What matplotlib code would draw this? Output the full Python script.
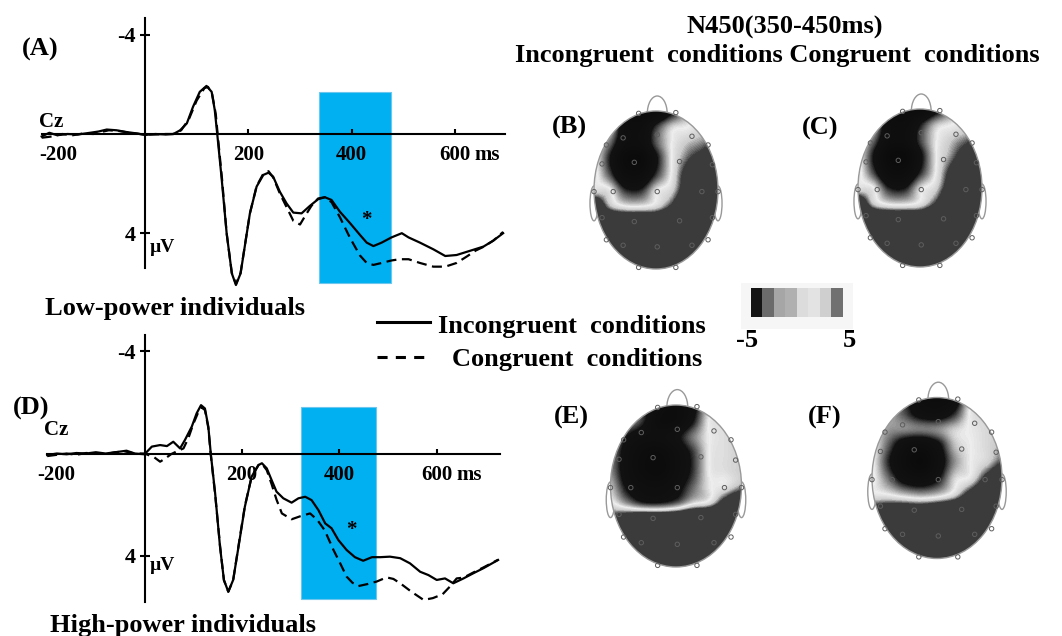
import numpy as np
import matplotlib
matplotlib.use("Agg")
import matplotlib.pyplot as plt
from matplotlib.colors import LinearSegmentedColormap
from matplotlib.patches import Ellipse, Arc, Rectangle

plt.rcParams['font.family'] = ['Liberation Serif', 'DejaVu Serif']
plt.rcParams['font.weight'] = 'bold'

# ─── ERP waveforms at Cz (ms, µV; negative up) ─────────────────────
t_a_inc = [-200, -185, -170, -150, -130, -106, -90, -74, -55, -36, -15, 0,
           20, 40, 55, 68, 81, 93, 106, 119, 129, 135, 140,
           148, 158, 168, 176, 185, 194, 203, 216, 229, 239, 248,
           261, 274, 287, 303, 319, 335, 348, 361, 377, 397,
           416, 429, 442, 458, 477, 497, 510, 532, 558, 581,
           603, 629, 655, 674, 693]
v_a_inc = [0.1, -0.05, 0.05, 0.0, 0.02, -0.05, -0.1, -0.18, -0.15, -0.08, -0.02, 0.04,
           0.0, 0.02, 0.0, -0.15, -0.43, -1.1, -1.7, -1.94, -1.7, -0.97, 0.04,
           1.72, 4.0, 5.62, 6.09, 5.62, 4.41, 3.2, 2.12, 1.65, 1.56, 1.72,
           2.33, 2.8, 3.17, 3.2, 2.9, 2.63, 2.55, 2.66, 3.13, 3.6,
           4.07, 4.38, 4.52, 4.38, 4.17, 4.0, 4.17, 4.38, 4.65, 4.92,
           4.88, 4.71, 4.54, 4.30, 4.0]

t_a_con = [-200, -180, -160, -140, -120, -100, -85, -70, -50, -30, -10, 0,
           20, 40, 55, 70, 85, 100, 115, 122, 130, 137, 141,
           149, 158, 168, 176, 185, 194, 203, 216, 229, 239, 248,
           261, 274, 287, 300, 310, 322, 335, 348, 361, 377,
           397, 416, 429, 442, 458, 477, 493, 510, 532, 558,
           581, 603, 622, 640, 655, 674, 693]
v_a_con = [0.15, 0.1, 0.0, 0.05, -0.02, 0.0, -0.08, -0.15, -0.12, -0.05, 0.0, 0.02,
           0.02, 0.0, 0.0, -0.15, -0.6, -1.35, -1.85, -1.9, -1.6, -0.8, 0.1,
           1.8, 4.0, 5.6, 6.05, 5.6, 4.4, 3.2, 2.1, 1.6, 1.5, 1.75,
           2.4, 2.95, 3.5, 3.65, 3.3, 2.9, 2.6, 2.55, 2.75, 3.35,
           4.2, 4.9, 5.2, 5.28, 5.2, 5.1, 5.05, 5.05, 5.2, 5.35,
           5.35, 5.2, 4.95, 4.7, 4.55, 4.3, 3.95]

t_d_inc = [-200, -180, -160, -140, -120, -100, -80, -60, -37, -20, 0,
           15, 32, 46, 59, 73, 83, 97, 107, 116, 124, 131, 136,
           145, 155, 163, 172, 182, 193, 206, 220, 234, 241,
           251, 261, 271, 285, 302, 316, 330, 343, 357, 371,
           384, 398, 415, 432, 449, 467, 484, 504, 525, 545,
           566, 583, 600, 617, 634, 655, 675, 696, 726]
v_d_inc = [0.06, 0.0, 0.03, -0.02, 0.0, -0.05, 0.0, -0.05, -0.11, 0.0, 0.03,
           -0.27, -0.33, -0.29, -0.46, -0.2, -0.53, -1.05, -1.57, -1.89, -1.76, -1.05, 0.0,
           1.56, 3.64, 4.94, 5.4, 4.94, 3.64, 2.08, 0.9, 0.45, 0.38,
           0.58, 1.04, 1.49, 1.75, 1.92, 1.75, 1.69, 1.82, 2.21, 2.73,
           2.92, 3.38, 3.77, 4.05, 4.19, 4.05, 4.05, 4.03, 4.09, 4.29,
           4.62, 4.75, 4.94, 4.88, 5.07, 4.88, 4.68, 4.48, 4.16]

t_d_con = [-200, -180, -160, -140, -120, -100, -80, -60, -40, -20, 0,
           20, 32, 42, 55, 68, 80, 90, 100, 110, 117, 124, 131, 136,
           145, 155, 163, 172, 182, 193, 206, 220, 234, 241,
           251, 261, 271, 282, 302, 320, 340, 355, 370, 388,
           402, 415, 427, 439, 458, 477, 497, 511, 525, 548,
           573, 592, 612, 627, 641, 655, 675, 696, 726]
v_d_con = [0.1, 0.05, 0.0, 0.05, -0.02, 0.0, 0.02, -0.05, -0.08, 0.0, 0.0,
           0.15, 0.32, 0.2, 0.02, -0.1, -0.2, -0.6, -1.15, -1.6, -1.8, -1.7, -1.0, 0.05,
           1.6, 3.6, 4.95, 5.4, 4.95, 3.6, 2.05, 0.9, 0.45, 0.4,
           0.65, 1.2, 1.8, 2.34, 2.57, 2.45, 2.34, 2.6, 3.0, 3.77,
           4.3, 4.81, 5.05, 5.18, 5.1, 5.0, 4.84, 4.9, 5.07, 5.4,
           5.72, 5.65, 5.5, 5.2, 4.88, 4.85, 4.65, 4.45, 4.15]

# highlighted time windows (ms) and significance marks (ms, µV)
win_a = (337, 476)
win_d = (322, 476)
star_a = (428, 3.45)
star_d = (424, 3.0)

# ─── topographic maps: values on a 9 x 11 grid (u: -1..1, v: 1..-1) ──
map_b = [[-1.4, -2.0, -4.0, -4.5, -4.2, -3.0, -1.8, -1.2, -1.0],
         [-1.3, -1.5, -3.5, -3.8, -2.6, -1.6, -1.4, -1.1, -0.9],
         [-1.2, -2.1, -3.6, -3.7, -2.35, -1.4, -1.0, -0.8, -0.5],
         [-1.2, -2.7, -4.5, -4.7, -2.95, -1.4, -0.7, -0.3, 0.2],
         [-1.2, -2.35, -3.9, -4.0, -2.6, -1.35, -0.3, 0.3, 0.6],
         [-1.2, -1.3, -2.6, -2.7, -1.5, -1.1, -0.1, 0.5, 0.8],
         [0.3, -0.9, -1.4, -1.45, -1.2, -0.5, 0.5, 0.8, 1.0],
         [0.8, 0.6, 0.5, 0.5, 0.5, 0.8, 1.0, 1.0, 1.0],
         [1.0, 1.0, 1.0, 1.0, 1.0, 1.0, 1.0, 1.0, 1.0],
         [1.0, 1.0, 1.0, 1.0, 1.0, 1.0, 1.0, 1.0, 1.0],
         [1.0, 1.0, 1.0, 1.0, 1.0, 1.0, 1.0, 1.0, 1.0]]
map_c = [[-1.4, -2.0, -3.8, -4.5, -4.3, -3.2, -2.0, -1.3, -1.0],
         [-1.3, -1.6, -3.6, -3.9, -2.8, -1.7, -1.4, -1.2, -0.9],
         [-1.2, -2.2, -3.7, -3.8, -2.5, -1.45, -1.0, -0.7, -0.4],
         [-1.2, -2.8, -4.6, -4.8, -3.05, -1.45, -0.8, -0.2, 0.2],
         [-1.2, -2.45, -4.0, -4.1, -2.7, -1.4, -0.4, 0.3, 0.6],
         [-1.2, -1.35, -2.7, -2.8, -1.55, -1.1, -0.1, 0.5, 0.8],
         [0.2, -1.0, -1.45, -1.5, -1.25, -0.5, 0.5, 0.8, 1.0],
         [0.8, 0.6, 0.5, 0.5, 0.5, 0.8, 1.0, 1.0, 1.0],
         [1.0, 1.0, 1.0, 1.0, 1.0, 1.0, 1.0, 1.0, 1.0],
         [1.0, 1.0, 1.0, 1.0, 1.0, 1.0, 1.0, 1.0, 1.0],
         [1.0, 1.0, 1.0, 1.0, 1.0, 1.0, 1.0, 1.0, 1.0]]
map_e = [[-1.4, -1.6, -2.4, -3.6, -4.0, -3.2, -1.6, -1.2, -1.1],
         [-1.3, -1.75, -2.6, -4.0, -4.0, -2.9, -1.4, -1.2, -1.05],
         [-1.45, -2.78, -3.39, -3.5, -3.04, -2.13, -1.4, -1.2, -1.05],
         [-1.9, -3.24, -4.1, -4.34, -3.57, -2.58, -1.4, -1.2, -1.05],
         [-2.0, -3.31, -4.25, -4.56, -3.64, -2.63, -1.4, -1.2, -1.05],
         [-1.65, -2.95, -3.64, -3.77, -3.22, -2.3, -1.45, -1.3, -0.9],
         [-1.3, -2.07, -2.82, -2.91, -2.49, -1.65, -1.3, -0.3, 0.3],
         [-0.4, 0.0, 0.4, 0.4, 0.5, 0.7, 0.9, 1.0, 1.0],
         [1.0, 1.0, 1.0, 1.0, 1.0, 1.0, 1.0, 1.0, 1.0],
         [1.0, 1.0, 1.0, 1.0, 1.0, 1.0, 1.0, 1.0, 1.0],
         [1.0, 1.0, 1.0, 1.0, 1.0, 1.0, 1.0, 1.0, 1.0]]
map_f = [[-1.4, -1.6, -2.5, -3.8, -4.2, -3.6, -1.4, -1.1, -1.0],
         [-1.4, -1.7, -2.4, -3.2, -3.4, -2.7, -1.35, -1.1, -1.0],
         [-1.4, -1.9, -2.0, -2.1, -2.0, -1.6, -1.35, -1.15, -1.0],
         [-1.3, -2.3, -3.48, -3.86, -3.09, -1.74, -1.4, -1.15, -0.9],
         [-1.3, -2.66, -3.97, -4.71, -3.46, -2.02, -1.4, -1.1, -0.6],
         [-1.3, -2.18, -3.26, -3.59, -2.93, -1.6, -1.3, -0.4, 0.3],
         [-1.3, -1.4, -1.7, -1.9, -1.7, -1.2, -0.3, 0.4, 0.8],
         [-0.2, 0.0, 0.1, 0.1, 0.3, 0.6, 0.9, 1.0, 1.0],
         [0.8, 0.8, 0.9, 0.9, 1.0, 1.0, 1.0, 1.0, 1.0],
         [1.0, 1.0, 1.0, 1.0, 1.0, 1.0, 1.0, 1.0, 1.0],
         [1.0, 1.0, 1.0, 1.0, 1.0, 1.0, 1.0, 1.0, 1.0]]

# electrode positions (head-normalised)
elec_u = [-0.28, 0.32, -0.53, 0.02, 0.58, -0.80, 0.84, -0.87, -0.35, 0.38, 0.91,
          -1.0, -0.69, 0.02, 0.74, 1.0, -0.87, -0.35, 0.38, 0.91,
          -0.80, -0.53, 0.02, 0.58, 0.84, -0.28, 0.32]
elec_v = [0.97, 0.98, 0.66, 0.70, 0.68, 0.57, 0.57, 0.33, 0.35, 0.36, 0.32,
          -0.02, -0.02, -0.02, -0.02, -0.02, -0.35, -0.40, -0.39, -0.35,
          -0.63, -0.70, -0.72, -0.70, -0.63, -0.98, -0.98]

# colour scale strip (grey level of each block)
cbar_levels = [0.08, 0.42, 0.65, 0.69, 0.86, 0.89, 0.81, 0.44]
# ────────────────────────────────────────────────────────────────────

W, H = 1062, 636
fig = plt.figure(figsize=(W / 100, H / 100), dpi=100)


def box(l, t, r, b):
    return fig.add_axes([l / W, 1 - b / H, (r - l) / W, (b - t) / H])


def erp(ax, t1, v1, t2, v2, win, win_v, ybounds, xbounds, star, left_lab):
    ax.set_facecolor('none')
    ax.add_patch(Rectangle((win[0], win_v[0]), win[1] - win[0], win_v[1] - win_v[0],
                           fc='#00b0f0', ec='#6cc6ee', lw=0.8, zorder=1))
    ax.plot(t1, v1, color='black', lw=1.6, zorder=3)
    ax.plot(t2, v2, color='black', lw=1.6, ls=(0, (4.5, 2.5)), zorder=3)
    for s in ('top', 'right'):
        ax.spines[s].set_visible(False)
    ax.spines['left'].set_position(('data', 0))
    ax.spines['bottom'].set_position(('data', 0))
    ax.spines['left'].set_bounds(*ybounds)
    ax.spines['bottom'].set_bounds(*xbounds)
    for s in ('left', 'bottom'):
        ax.spines[s].set_linewidth(1.5)
    ax.set_yticks([-4, 4], ['-4', '4'], fontsize=16)
    ax.set_xticks([200, 400, 600], ['200', '400', '600'], fontsize=15)
    ax.tick_params(axis='y', direction='inout', length=7, width=1.5, pad=3)
    ax.tick_params(axis='x', direction='in', length=3.5, width=1.5, pad=8)
    ax.annotate('ms', xy=(600, 0), xytext=(14, -8), textcoords='offset points',
                ha='left', va='top', fontsize=15)
    ax.annotate('-200', xy=(left_lab, 0), xytext=(0, -8), textcoords='offset points',
                ha='left', va='top', fontsize=15)
    ax.text(star[0], star[1], '*', ha='center', va='center', fontsize=15)


ax_a = box(31.3, 12.5, 511.9, 292.7)
ax_a.set_xlim(-220, 710)
ax_a.set_ylim(6.4, -4.9)
erp(ax_a, t_a_inc, v_a_inc, t_a_con, v_a_con, win_a, (-1.7, 6.0),
    (-4.68, 5.4), (-200, 697), star_a, -205)

ax_d = box(37.4, 328.1, 504.9, 612.2)
ax_d.set_xlim(-220, 740)
ax_d.set_ylim(6.2, -4.9)
erp(ax_d, t_d_inc, v_d_inc, t_d_con, v_d_con, win_d, (-1.82, 5.68),
    (-4.63, 5.8), (-200, 730), star_d, -220)

# topographic maps
topo_cmap = LinearSegmentedColormap.from_list('topo', [
    (0.0, '#0b0b0b'), (0.22, '#121212'), (0.30, '#8a8a8a'), (0.36, '#eeeeee'),
    (0.40, '#cccccc'), (0.44, '#3b3b3b'), (1.0, '#3b3b3b')])
GRAY = '#999999'


def topo(cx, cy, hw, hh, grid):
    ax = box(cx - 1.3 * hw, cy - 1.35 * hh, cx + 1.3 * hw, cy + 1.2 * hh)
    for s in (-1, 1):
        ax.add_patch(Ellipse((s * 1.0, -0.17), 0.13, 0.44, fill=False,
                             ec=GRAY, lw=1, zorder=1))
    ax.add_patch(Arc((0.02, 0.97), 0.32, 0.44, theta1=0, theta2=180,
                     ec=GRAY, lw=1, zorder=1))
    head = Ellipse((0, 0), 2, 2, fc='none', ec=GRAY, lw=1, zorder=3)
    ax.add_patch(head)
    im = ax.imshow(np.array(grid), extent=(-1.125, 1.125, -1.1, 1.1),
                   cmap=topo_cmap, vmin=-5, vmax=5, interpolation='catrom',
                   interpolation_stage='data', aspect='auto', zorder=2)
    im.set_clip_path(head)
    ax.scatter(elec_u, elec_v, s=10, facecolors='none', edgecolors='#5e5e5e',
               linewidths=0.7, zorder=4)
    ax.set_xlim(-1.3, 1.3)
    ax.set_ylim(-1.2, 1.35)
    ax.axis('off')


topo(656, 190, 62, 79, map_b)
topo(920, 188, 62, 79, map_c)
topo(676, 486, 65.5, 81, map_e)
topo(937, 478, 65, 80.5, map_f)

# colour scale
cax = box(741, 283, 853, 329)
cax.imshow([cbar_levels], cmap='gray', vmin=0, vmax=1, aspect='auto',
           interpolation='nearest', extent=(0.09, 0.91, 0.26, 0.89))
cax.set_xlim(0, 1)
cax.set_ylim(0, 1)
cax.set_facecolor('#f6f6f6')
cax.set_xticks([])
cax.set_yticks([])
for s in cax.spines.values():
    s.set_visible(False)

# text overlay in pixel coordinates
ov = fig.add_axes([0, 0, 1, 1])
ov.set_xlim(0, W)
ov.set_ylim(H, 0)
ov.axis('off')
big = 19
ov.text(40, 49, '(A)', ha='center', va='center', fontsize=big)
ov.text(31, 408, '(D)', ha='center', va='center', fontsize=big)
ov.text(51, 122, 'Cz', ha='center', va='center', fontsize=15)
ov.text(56, 430, 'Cz', ha='center', va='center', fontsize=15)
ov.text(162, 248, 'µV', ha='center', va='center', fontsize=14)
ov.text(162, 566, 'µV', ha='center', va='center', fontsize=14)
ov.text(45, 315, 'Low-power individuals', ha='left', va='baseline', fontsize=big)
ov.text(50, 632, 'High-power individuals', ha='left', va='baseline', fontsize=big)
ov.text(785, 34, 'N450(350-450ms)', ha='center', va='baseline', fontsize=big)
ov.text(515, 62, 'Incongruent  conditions Congruent  conditions', ha='left',
        va='baseline', fontsize=big)
ov.text(569, 127, '(B)', ha='center', va='center', fontsize=big)
ov.text(820, 128, '(C)', ha='center', va='center', fontsize=big)
ov.text(571, 417, '(E)', ha='center', va='center', fontsize=big)
ov.text(825, 417, '(F)', ha='center', va='center', fontsize=big)
ov.text(747, 347, '-5', ha='center', va='baseline', fontsize=big)
ov.text(849, 347, '5', ha='center', va='baseline', fontsize=big)

# legend
ov.plot([377, 430], [322, 322], color='black', lw=2.2)
ov.plot([377, 430], [357, 357], color='black', lw=2.2, ls=(0, (3.3, 2.7)))
ov.text(438, 333, 'Incongruent  conditions', ha='left', va='baseline', fontsize=big)
ov.text(452, 366, 'Congruent  conditions', ha='left', va='baseline', fontsize=big)

fig.savefig('out.png', dpi=100)
